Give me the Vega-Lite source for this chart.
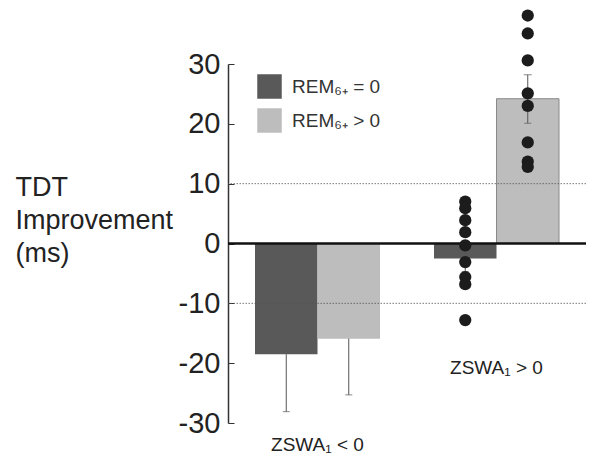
{
  "$schema": "https://vega.github.io/schema/vega-lite/v6.json",
  "autosize": {"type": "none"},
  "width": 358,
  "height": 359,
  "padding": {"left": 228, "top": 64, "right": 15, "bottom": 47},
  "background": "white",
  "config": {
    "view": {"stroke": null},
    "font": "Liberation Sans"
  },
  "datasets": {
    "bars": [
      {"group": "ZSWA1 < 0", "rem": "REM₆₊ = 0", "value": -18.5, "lo": -28.1, "hi": -18.5},
      {"group": "ZSWA1 < 0", "rem": "REM₆₊ > 0", "value": -15.9, "lo": -25.3, "hi": -15.9},
      {"group": "ZSWA1 > 0", "rem": "REM₆₊ = 0", "value": -2.5, "lo": -4.7, "hi": -0.3},
      {"group": "ZSWA1 > 0", "rem": "REM₆₊ > 0", "value": 24.2, "lo": 20.1, "hi": 28.2}
    ],
    "points": [
      {"group": "ZSWA1 > 0", "rem": "REM₆₊ = 0", "value": 7.0},
      {"group": "ZSWA1 > 0", "rem": "REM₆₊ = 0", "value": 5.9},
      {"group": "ZSWA1 > 0", "rem": "REM₆₊ = 0", "value": 3.9},
      {"group": "ZSWA1 > 0", "rem": "REM₆₊ = 0", "value": 1.9},
      {"group": "ZSWA1 > 0", "rem": "REM₆₊ = 0", "value": -0.3},
      {"group": "ZSWA1 > 0", "rem": "REM₆₊ = 0", "value": -3.1},
      {"group": "ZSWA1 > 0", "rem": "REM₆₊ = 0", "value": -5.6},
      {"group": "ZSWA1 > 0", "rem": "REM₆₊ = 0", "value": -6.8},
      {"group": "ZSWA1 > 0", "rem": "REM₆₊ = 0", "value": -12.8},
      {"group": "ZSWA1 > 0", "rem": "REM₆₊ > 0", "value": 38.1},
      {"group": "ZSWA1 > 0", "rem": "REM₆₊ > 0", "value": 35.1},
      {"group": "ZSWA1 > 0", "rem": "REM₆₊ > 0", "value": 30.6},
      {"group": "ZSWA1 > 0", "rem": "REM₆₊ > 0", "value": 25.1},
      {"group": "ZSWA1 > 0", "rem": "REM₆₊ > 0", "value": 23.0},
      {"group": "ZSWA1 > 0", "rem": "REM₆₊ > 0", "value": 16.9},
      {"group": "ZSWA1 > 0", "rem": "REM₆₊ > 0", "value": 13.7},
      {"group": "ZSWA1 > 0", "rem": "REM₆₊ > 0", "value": 12.8}
    ],
    "labels": [
      {"group": "ZSWA1 < 0", "text": "ZSWA₁ < 0", "labelY": -33.7},
      {"group": "ZSWA1 > 0", "text": "ZSWA₁ > 0", "labelY": -20.8}
    ]
  },
  "encoding": {
    "x": {
      "field": "group", "type": "nominal",
      "scale": {"domain": ["ZSWA1 < 0", "ZSWA1 > 0"], "paddingInner": 0, "paddingOuter": 0},
      "axis": null
    },
    "xOffset": {
      "field": "rem", "type": "nominal",
      "scale": {"domain": ["REM₆₊ = 0", "REM₆₊ > 0"], "paddingInner": 0, "paddingOuter": 0.432}
    }
  },
  "layer": [
    {
      "data": {"name": "bars"},
      "mark": {"type": "bar", "stroke": "#8a8a8a"},
      "encoding": {
        "y": {
          "field": "value", "type": "quantitative",
          "scale": {"domain": [-30, 30], "nice": false, "zero": false},
          "axis": {
            "values": [-30, -20, -10, 0, 10, 20, 30],
            "labelExpr": "toString(datum.value)",
            "grid": false,
            "domainColor": "#333",
            "domainWidth": 1.5,
            "tickColor": "#333",
            "tickSize": -6,
            "labelPadding": 14,
            "labelFontSize": 29,
            "labelColor": "#222",
            "labelFont": "Liberation Sans",
            "title": ["TDT", "Improvement", "(ms)"],
            "titleAngle": 0,
            "titleAlign": "left",
            "titleBaseline": "alphabetic",
            "titleX": -213,
            "titleY": 131,
            "titleFontSize": 27,
            "titleFontWeight": "normal",
            "titleLineHeight": 33,
            "titleColor": "#222",
            "titleFont": "Liberation Sans"
          }
        },
        "color": {
          "field": "rem", "type": "nominal",
          "scale": {"domain": ["REM₆₊ = 0", "REM₆₊ > 0"], "range": ["#595959", "#bdbdbd"]},
          "legend": {
            "orient": "none",
            "legendX": 29,
            "legendY": 10,
            "title": null,
            "padding": 0,
            "symbolType": "square",
            "symbolSize": 600,
            "symbolStrokeWidth": 0,
            "symbolOpacity": 1,
            "labelFontSize": 19,
            "labelColor": "#333",
            "labelFont": "Liberation Sans",
            "labelOffset": 10,
            "rowPadding": 9
          }
        },
        "strokeWidth": {
          "condition": {"test": "datum.group == 'ZSWA1 > 0' && datum.value > 0", "value": 1},
          "value": 0
        }
      }
    },
    {
      "data": {"name": "bars"},
      "mark": {"type": "rule", "color": "#555", "strokeWidth": 1},
      "encoding": {
        "y": {"field": "lo", "type": "quantitative"},
        "y2": {"field": "hi"}
      }
    },
    {
      "data": {"name": "bars"},
      "mark": {"type": "tick", "orient": "horizontal", "color": "#555", "size": 7, "thickness": 1},
      "encoding": {
        "y": {"field": "lo", "type": "quantitative"}
      }
    },
    {
      "data": {"name": "bars"},
      "transform": [{"filter": "datum.value > 0"}],
      "mark": {"type": "tick", "orient": "horizontal", "color": "#555", "size": 8, "thickness": 1},
      "encoding": {
        "y": {"field": "hi", "type": "quantitative"}
      }
    },
    {
      "data": {"values": [{"g": 10}, {"g": -10}]},
      "mark": {"type": "rule", "color": "#555", "strokeWidth": 0.8, "strokeDash": [1.5, 1.5]},
      "encoding": {
        "x": null,
        "xOffset": null,
        "y": {"field": "g", "type": "quantitative"}
      }
    },
    {
      "data": {"values": [{"z": 0}]},
      "mark": {"type": "rule", "color": "#111", "strokeWidth": 2.5},
      "encoding": {
        "x": null,
        "xOffset": null,
        "y": {"field": "z", "type": "quantitative"}
      }
    },
    {
      "data": {"name": "points"},
      "mark": {"type": "point", "filled": true, "color": "#1c1c1c", "opacity": 1, "size": 150, "shape": "circle"},
      "encoding": {
        "y": {"field": "value", "type": "quantitative"}
      }
    },
    {
      "data": {"name": "labels"},
      "mark": {"type": "text", "fontSize": 19, "color": "#222", "baseline": "middle", "align": "center", "font": "Liberation Sans"},
      "encoding": {
        "xOffset": null,
        "y": {"field": "labelY", "type": "quantitative"},
        "text": {"field": "text"}
      }
    }
  ]
}
